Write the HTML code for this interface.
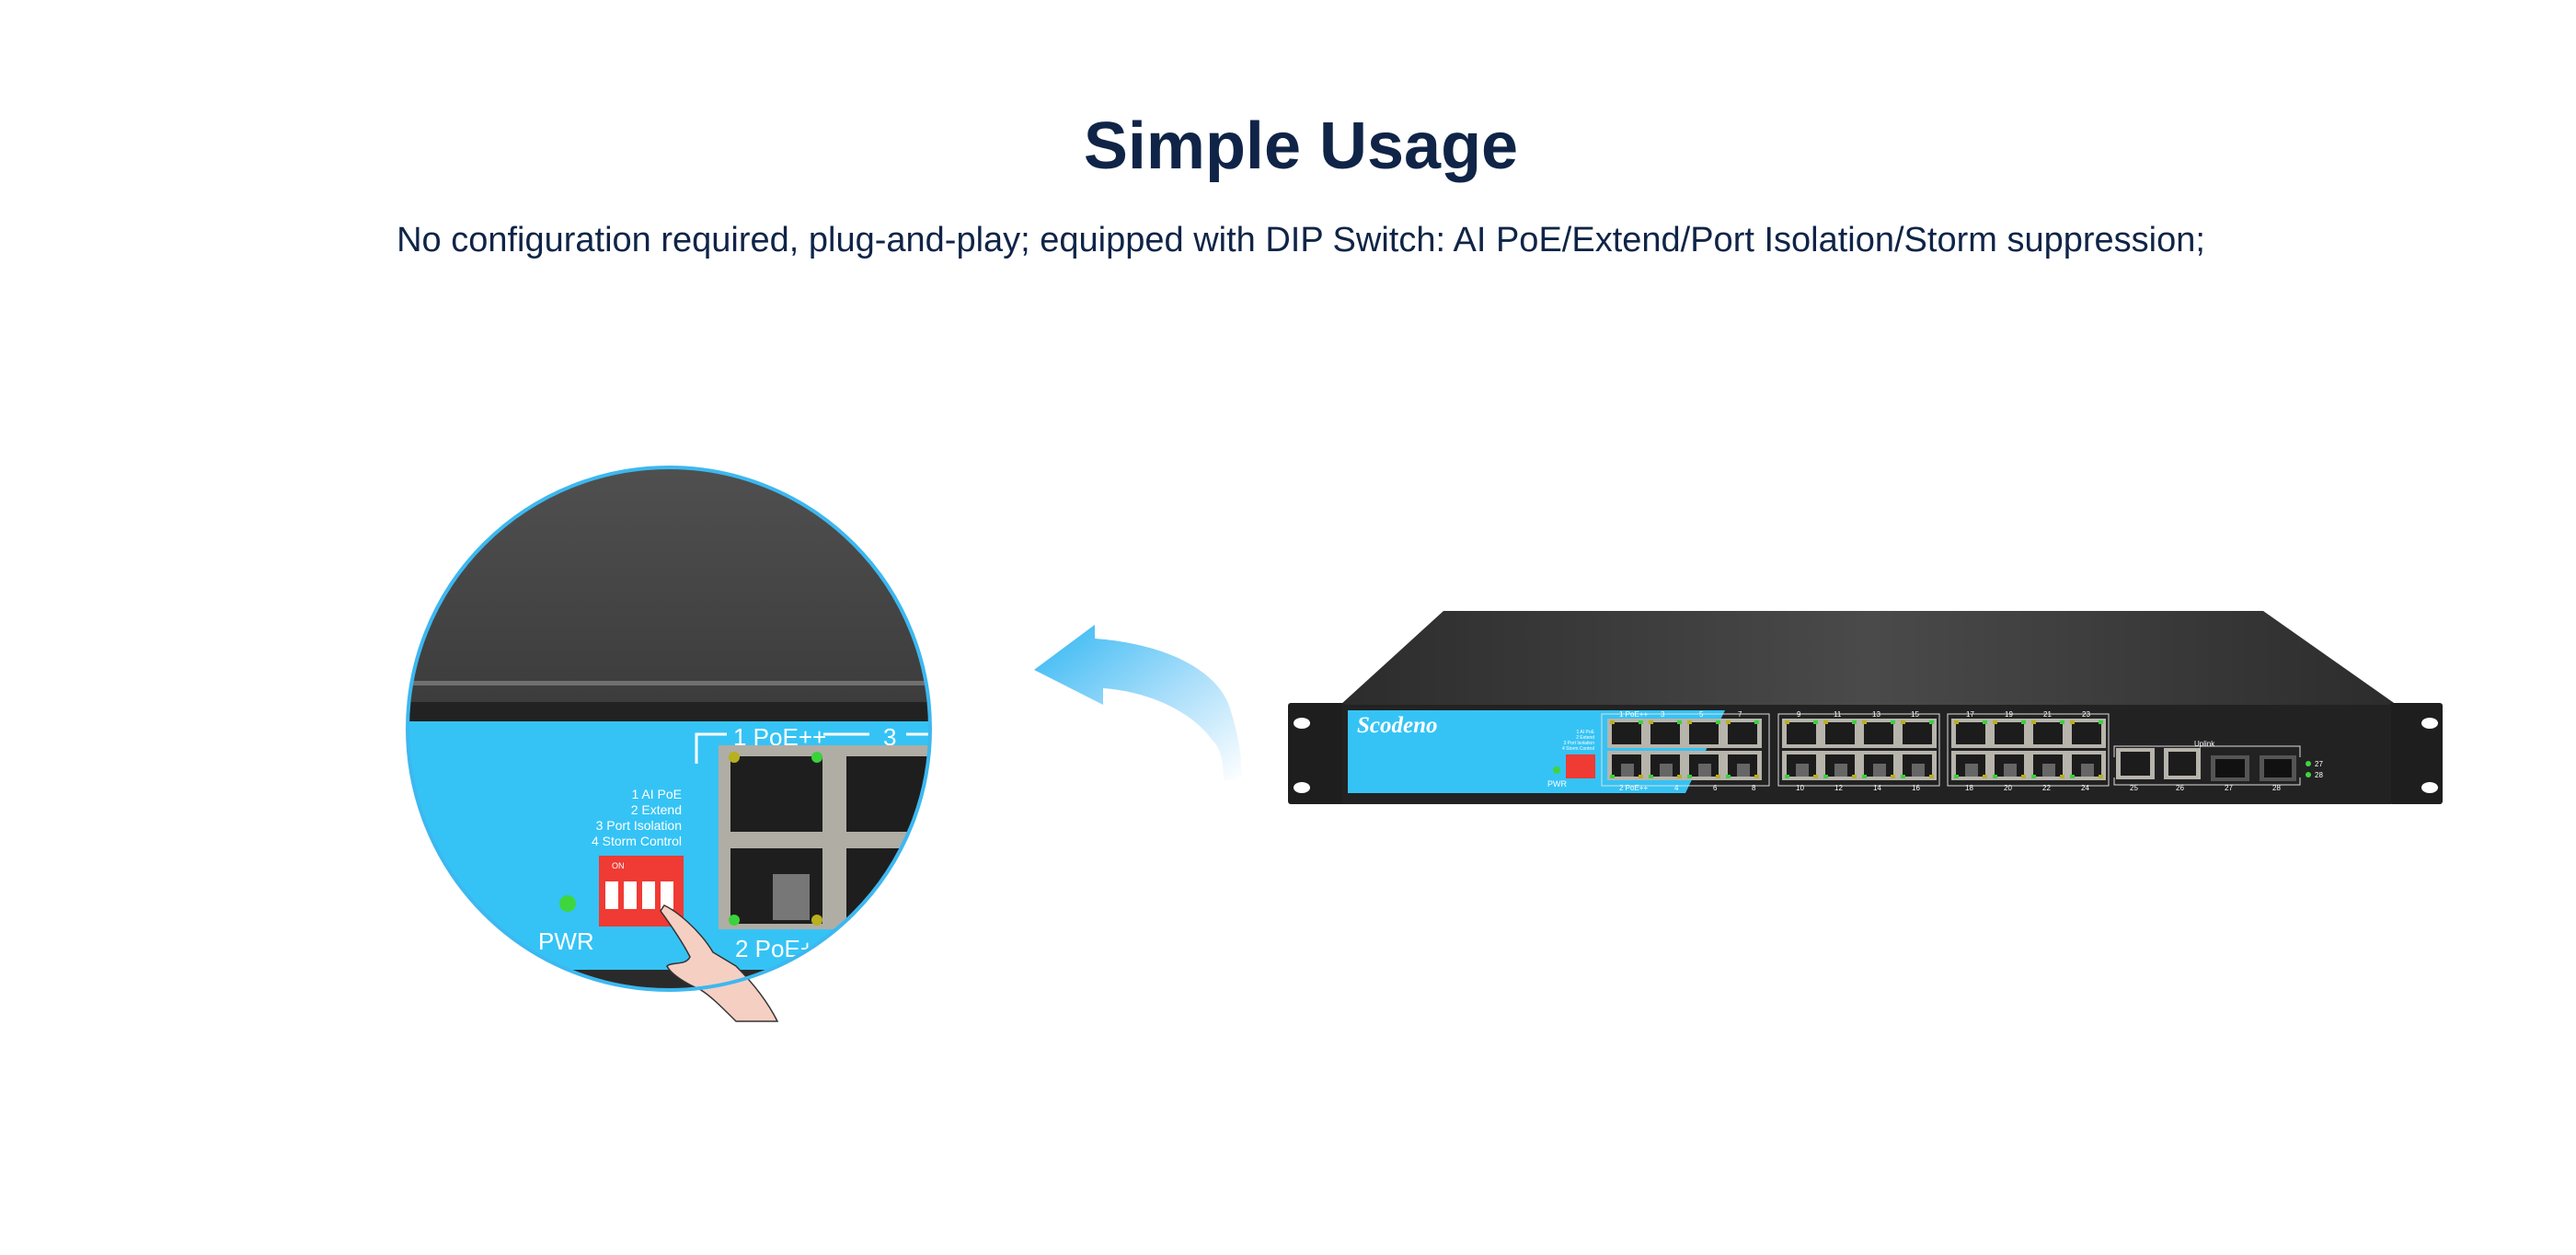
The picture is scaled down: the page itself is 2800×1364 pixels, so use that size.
<!DOCTYPE html>
<html><head><meta charset="utf-8"><style>
html,body{margin:0;padding:0;background:#fff}
body{width:2800px;height:1364px;overflow:hidden;position:relative;font-family:"Liberation Sans",sans-serif}
.t{position:absolute;left:14px;width:2800px;text-align:center;color:#0f2447}
</style></head><body>
<div class="t" style="top:118px;font-size:72px;font-weight:bold;">Simple Usage</div>
<div class="t" style="top:240px;font-size:38px;">No configuration required, plug-and-play; equipped with DIP Switch: AI PoE/Extend/Port Isolation/Storm suppression;</div>
<svg width="2800" height="1364" style="position:absolute;left:0;top:0" xmlns="http://www.w3.org/2000/svg">
<defs>
<clipPath id="cc"><circle cx="727" cy="792" r="284"/></clipPath>
<linearGradient id="top" x1="0" y1="0" x2="0" y2="1"><stop offset="0" stop-color="#505050"/><stop offset="1" stop-color="#3c3c3c"/></linearGradient>
<linearGradient id="arr" x1="0" y1="0" x2="1" y2="1"><stop offset="0" stop-color="#2fb6f3"/><stop offset="0.55" stop-color="#a9defa"/><stop offset="1" stop-color="#fff"/></linearGradient>
<linearGradient id="plate" x1="0" y1="0" x2="1" y2="0"><stop offset="0" stop-color="#2c2c2c"/><stop offset="0.5" stop-color="#4a4a4a"/><stop offset="1" stop-color="#2c2c2c"/></linearGradient>
<g id="port"><rect x="0" y="0" width="42" height="32" fill="#b7b4ac"/><rect x="5" y="4" width="32" height="24" fill="#1c1c1c"/><rect x="3" y="2" width="5" height="4" fill="#b8b01e"/><rect x="34" y="2" width="5" height="4" fill="#3bd23b"/></g>
<g id="portb"><rect x="0" y="0" width="42" height="32" fill="#b7b4ac"/><rect x="5" y="4" width="32" height="24" fill="#1c1c1c"/><rect x="15" y="14" width="14" height="14" fill="#666"/><rect x="3" y="26" width="5" height="4" fill="#3bd23b"/><rect x="34" y="26" width="5" height="4" fill="#b8b01e"/></g>
</defs>
<g clip-path="url(#cc)">
<rect x="430" y="500" width="600" height="270" fill="url(#top)"/>
<rect x="430" y="740" width="600" height="5" fill="#707070"/>
<rect x="430" y="763" width="600" height="21" fill="#222"/>
<rect x="430" y="784" width="600" height="270" fill="#35c3f5"/>
<rect x="430" y="1054" width="600" height="30" fill="#2a2a2a"/>
<polyline points="757,830 757,798 790,798" fill="none" stroke="#fff" stroke-width="3"/>
<line x1="895" y1="798" x2="945" y2="798" stroke="#fff" stroke-width="3"/>
<line x1="985" y1="798" x2="1020" y2="798" stroke="#fff" stroke-width="3"/>
<text x="797" y="810" font-size="26" fill="#fff">1 PoE++</text>
<text x="960" y="810" font-size="26" fill="#fff">3</text>
<rect x="781" y="810" width="240" height="200" fill="#b0ada5"/>
<rect x="794" y="822" width="100" height="82" fill="#1e1e1e"/>
<rect x="920" y="822" width="100" height="82" fill="#1e1e1e"/>
<rect x="794" y="922" width="100" height="82" fill="#1e1e1e"/>
<rect x="920" y="922" width="100" height="82" fill="#1e1e1e"/>
<rect x="840" y="950" width="40" height="50" fill="#777"/>
<circle cx="798" cy="823" r="6" fill="#b8b01e"/><circle cx="888" cy="823" r="6" fill="#3bd23b"/>
<circle cx="798" cy="1000" r="6" fill="#3bd23b"/><circle cx="888" cy="1000" r="6" fill="#b8b01e"/>
<text x="741" y="868" font-size="14" fill="#fff" text-anchor="end">1 AI PoE</text>
<text x="741" y="885" font-size="14" fill="#fff" text-anchor="end">2 Extend</text>
<text x="741" y="902" font-size="14" fill="#fff" text-anchor="end">3 Port Isolation</text>
<text x="741" y="919" font-size="14" fill="#fff" text-anchor="end">4 Storm Control</text>
<rect x="651" y="930" width="92" height="77" fill="#f03a34"/>
<rect x="658" y="958" width="14" height="30" fill="#fff"/><rect x="678" y="958" width="14" height="30" fill="#fff"/><rect x="698" y="958" width="14" height="30" fill="#fff"/><rect x="718" y="958" width="14" height="30" fill="#fff"/>
<text x="665" y="944" font-size="9" fill="#fff">ON</text>
<circle cx="617" cy="982" r="9" fill="#3ed63e"/>
<text x="585" y="1032" font-size="26" fill="#fff">PWR</text>
<text x="799" y="1040" font-size="26" fill="#fff">2 PoE+</text>
</g>
<path d="M722,984 C735,990 760,1010 775,1035 L800,1050 C820,1070 835,1090 845,1110 L800,1110 C785,1095 770,1080 760,1075 C748,1070 730,1060 725,1050 C730,1045 745,1050 750,1040 C740,1020 725,1000 718,990 Z" fill="#f6cfc3" stroke="#333" stroke-width="1.5"/>
<circle cx="727" cy="792" r="284" fill="none" stroke="#3cb8f0" stroke-width="4"/>
<path d="M1124,728 L1190,679 L1190,694 C1270,700 1325,730 1337,770 C1345,795 1350,820 1350,848 L1330,848 C1330,825 1325,810 1318,805 C1300,778 1255,752 1199,748 L1199,766 Z" fill="url(#arr)"/>
<polygon points="1569,664 2460,664 2605,766 1457,766" fill="url(#plate)"/>
<rect x="1400" y="764" width="62" height="110" rx="3" fill="#1e1e1e"/>
<rect x="2597" y="764" width="58" height="110" rx="3" fill="#1e1e1e"/>
<ellipse cx="1415" cy="786" rx="9" ry="6" fill="#fff"/><ellipse cx="1415" cy="856" rx="9" ry="6" fill="#fff"/>
<ellipse cx="2641" cy="786" rx="9" ry="6" fill="#fff"/><ellipse cx="2641" cy="856" rx="9" ry="6" fill="#fff"/>
<rect x="1459" y="766" width="1140" height="108" fill="#222"/>
<polygon points="1465,772 1875,772 1832,862 1465,862" fill="#35c3f5"/>
<text x="1475" y="796" font-size="25" font-weight="bold" font-style="italic" fill="#fff" font-family="Liberation Serif,serif">Scodeno</text>
<text x="1733" y="797" font-size="5" fill="#fff" text-anchor="end">1 AI PoE</text>
<text x="1733" y="803" font-size="5" fill="#fff" text-anchor="end">2 Extend</text>
<text x="1733" y="809" font-size="5" fill="#fff" text-anchor="end">3 Port Isolation</text>
<text x="1733" y="815" font-size="5" fill="#fff" text-anchor="end">4 Storm Control</text>
<rect x="1702" y="820" width="32" height="26" fill="#f03a34"/>
<circle cx="1692" cy="837" r="4" fill="#3ed63e"/>
<text x="1682" y="855" font-size="9" fill="#fff">PWR</text>
<g fill="none" stroke="#ddd" stroke-width="1"><rect x="1741" y="776" width="182" height="78"/><rect x="1933" y="776" width="175" height="78"/><rect x="2117" y="776" width="175" height="78"/><polyline points="2298,823 2298,811 2500,811 2500,823"/><polyline points="2298,845 2298,853 2500,853 2500,845"/></g>
<g>
<use href="#port" x="1747" y="781"/><use href="#port" x="1789" y="781"/><use href="#port" x="1831" y="781"/><use href="#port" x="1873" y="781"/>
<use href="#portb" x="1747" y="816"/><use href="#portb" x="1789" y="816"/><use href="#portb" x="1831" y="816"/><use href="#portb" x="1873" y="816"/>
<use href="#port" x="1937" y="781"/><use href="#port" x="1979" y="781"/><use href="#port" x="2021" y="781"/><use href="#port" x="2063" y="781"/>
<use href="#portb" x="1937" y="816"/><use href="#portb" x="1979" y="816"/><use href="#portb" x="2021" y="816"/><use href="#portb" x="2063" y="816"/>
<use href="#port" x="2121" y="781"/><use href="#port" x="2163" y="781"/><use href="#port" x="2205" y="781"/><use href="#port" x="2247" y="781"/>
<use href="#portb" x="2121" y="816"/><use href="#portb" x="2163" y="816"/><use href="#portb" x="2205" y="816"/><use href="#portb" x="2247" y="816"/>
</g>
<rect x="2300" y="813" width="42" height="34" fill="#b7b4ac"/><rect x="2305" y="817" width="32" height="26" fill="#1c1c1c"/>
<rect x="2352" y="813" width="40" height="34" fill="#b7b4ac"/><rect x="2357" y="817" width="30" height="26" fill="#1c1c1c"/>
<rect x="2403" y="821" width="42" height="28" fill="#555"/><rect x="2408" y="825" width="32" height="20" fill="#111"/>
<rect x="2456" y="821" width="40" height="28" fill="#555"/><rect x="2461" y="825" width="30" height="20" fill="#111"/>
<circle cx="2509" cy="830" r="3" fill="#3ed63e"/><circle cx="2509" cy="842" r="3" fill="#3ed63e"/>
<g font-size="8" fill="#fff"><text x="2516" y="833">27</text><text x="2516" y="845">28</text><text x="2385" y="811">Uplink</text>
<text x="1760" y="779">1 PoE++</text><text x="1805" y="779">3</text><text x="1847" y="779">5</text><text x="1889" y="779">7</text>
<text x="1953" y="779">9</text><text x="1993" y="779">11</text><text x="2035" y="779">13</text><text x="2077" y="779">15</text>
<text x="2137" y="779">17</text><text x="2179" y="779">19</text><text x="2221" y="779">21</text><text x="2263" y="779">23</text>
<text x="1760" y="859">2 PoE++</text><text x="1820" y="859">4</text><text x="1862" y="859">6</text><text x="1904" y="859">8</text>
<text x="1952" y="859">10</text><text x="1994" y="859">12</text><text x="2036" y="859">14</text><text x="2078" y="859">16</text>
<text x="2136" y="859">18</text><text x="2178" y="859">20</text><text x="2220" y="859">22</text><text x="2262" y="859">24</text>
<text x="2315" y="859">25</text><text x="2365" y="859">26</text><text x="2418" y="859">27</text><text x="2470" y="859">28</text></g>
</svg>
</body></html>
